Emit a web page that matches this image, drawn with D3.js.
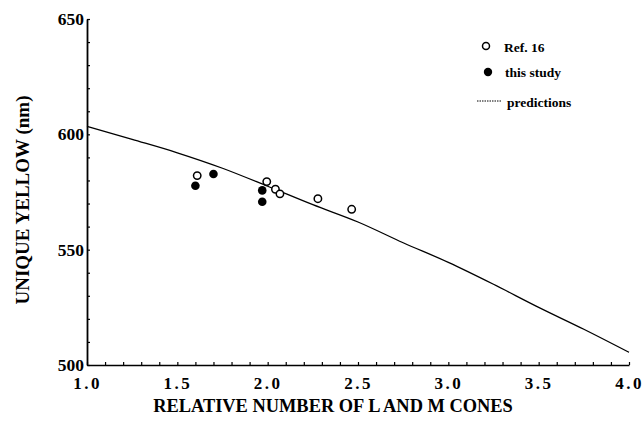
<!DOCTYPE html>
<html><head><meta charset="utf-8">
<script src="https://cdn.jsdelivr.net/npm/d3@7/dist/d3.min.js"></script>
<style>
body{margin:0;background:#fff;}
svg{display:block;}
svg text{font-family:"Liberation Serif","Times New Roman",Tinos,"DejaVu Serif",serif !important;font-weight:bold;fill:#000;}
</style></head><body>
<svg id="c" width="644" height="422"></svg>
<script>
// Data
const refX = [1.61, 1.995, 2.043, 2.068, 2.278, 2.465];
const refY = [582.1, 579.5, 576.2, 574.2, 572.1, 567.5];
const studyX = [1.60, 1.70, 1.97, 1.97];
const studyY = [577.7, 582.8, 575.7, 570.8];
const predX = [1.0, 1.25, 1.5, 1.75, 2.0, 2.25, 2.5, 2.75, 3.0, 3.25, 3.5, 3.75, 4.0];
const predY = [603.5, 597.8, 592.0, 585.3, 577.5, 569.5, 562.0, 553.0, 544.5, 535.0, 525.0, 515.5, 505.5];
const xTicks = d3.range(10, 41).map(d => d / 10);
const yTicks = d3.range(500, 651, 10);
const legendLabels = ["Ref. 16", "this study", "predictions"];
const xTitle = "RELATIVE NUMBER OF L AND M CONES";
const yTitle = "UNIQUE YELLOW (nm)";

const svg = d3.select("#c");
const x = d3.scaleLinear().domain([1, 4]).range([87, 629]);
const y = d3.scaleLinear().domain([500, 650]).range([365, 19]);

// Axes
const yAxis = d3.axisLeft(y).tickValues(yTicks).tickSizeInner(-3).tickSizeOuter(0).tickPadding(3)
  .tickFormat(d => d % 50 === 0 ? d : "");
const gy = svg.append("g").attr("transform", `translate(${x(1)},0)`).call(yAxis);
gy.select(".domain").attr("stroke-width", 1.8);
gy.selectAll(".tick line").attr("stroke-width", 1.2);
gy.selectAll(".tick text").attr("font-size", 17.5);

const xAxis = d3.axisBottom(x).tickValues(xTicks).tickSizeInner(-3).tickSizeOuter(0).tickPadding(12)
  .tickFormat(d => Math.abs(d * 2 - Math.round(d * 2)) < 1e-6 ? d.toFixed(1) : "");
const gx = svg.append("g").attr("transform", `translate(0,${y(500)})`).call(xAxis);
gx.select(".domain").attr("stroke-width", 1.6);
gx.selectAll(".tick line").attr("stroke-width", 1.2);
gx.selectAll(".tick text").attr("font-size", 17).attr("letter-spacing", "2.5px");

// Prediction line
const line = d3.line().x((d, i) => x(predX[i])).y((d, i) => y(predY[i])).curve(d3.curveMonotoneX);
svg.append("path").datum(predX).attr("d", line).attr("fill", "none").attr("stroke", "#000").attr("stroke-width", 1.3);

// Points
svg.append("g").selectAll("circle").data(refX).join("circle")
  .attr("cx", (d) => x(d)).attr("cy", (d, i) => y(refY[i])).attr("r", 3.7)
  .attr("fill", "#fff").attr("stroke", "#000").attr("stroke-width", 1.5);
svg.append("g").selectAll("circle").data(studyX).join("circle")
  .attr("cx", (d) => x(d)).attr("cy", (d, i) => y(studyY[i])).attr("r", 4.3)
  .attr("fill", "#000");

// Legend
const lg = svg.append("g");
lg.append("circle").attr("cx", 486).attr("cy", 46).attr("r", 3.5).attr("fill", "#fff").attr("stroke", "#000").attr("stroke-width", 1.5);
lg.append("circle").attr("cx", 488).attr("cy", 72).attr("r", 4.2).attr("fill", "#000");
lg.append("line").attr("x1", 477).attr("x2", 502).attr("y1", 101).attr("y2", 101).attr("stroke", "#000").attr("stroke-width", 1).attr("stroke-dasharray", "1.5,1");
const ly = [52, 77, 107];
const lx = [504, 505, 507];
lg.selectAll("text").data(legendLabels).join("text")
  .attr("x", (d, i) => lx[i]).attr("y", (d, i) => ly[i]).attr("font-size", 13.5).text(d => d);

// Titles
svg.append("text").attr("x", 333).attr("y", 412).attr("text-anchor", "middle").attr("font-size", 18.4).text(xTitle);
svg.append("text").attr("transform", "translate(29,200) rotate(-90)").attr("text-anchor", "middle").attr("font-size", 19).text(yTitle);
</script>
</body></html>
